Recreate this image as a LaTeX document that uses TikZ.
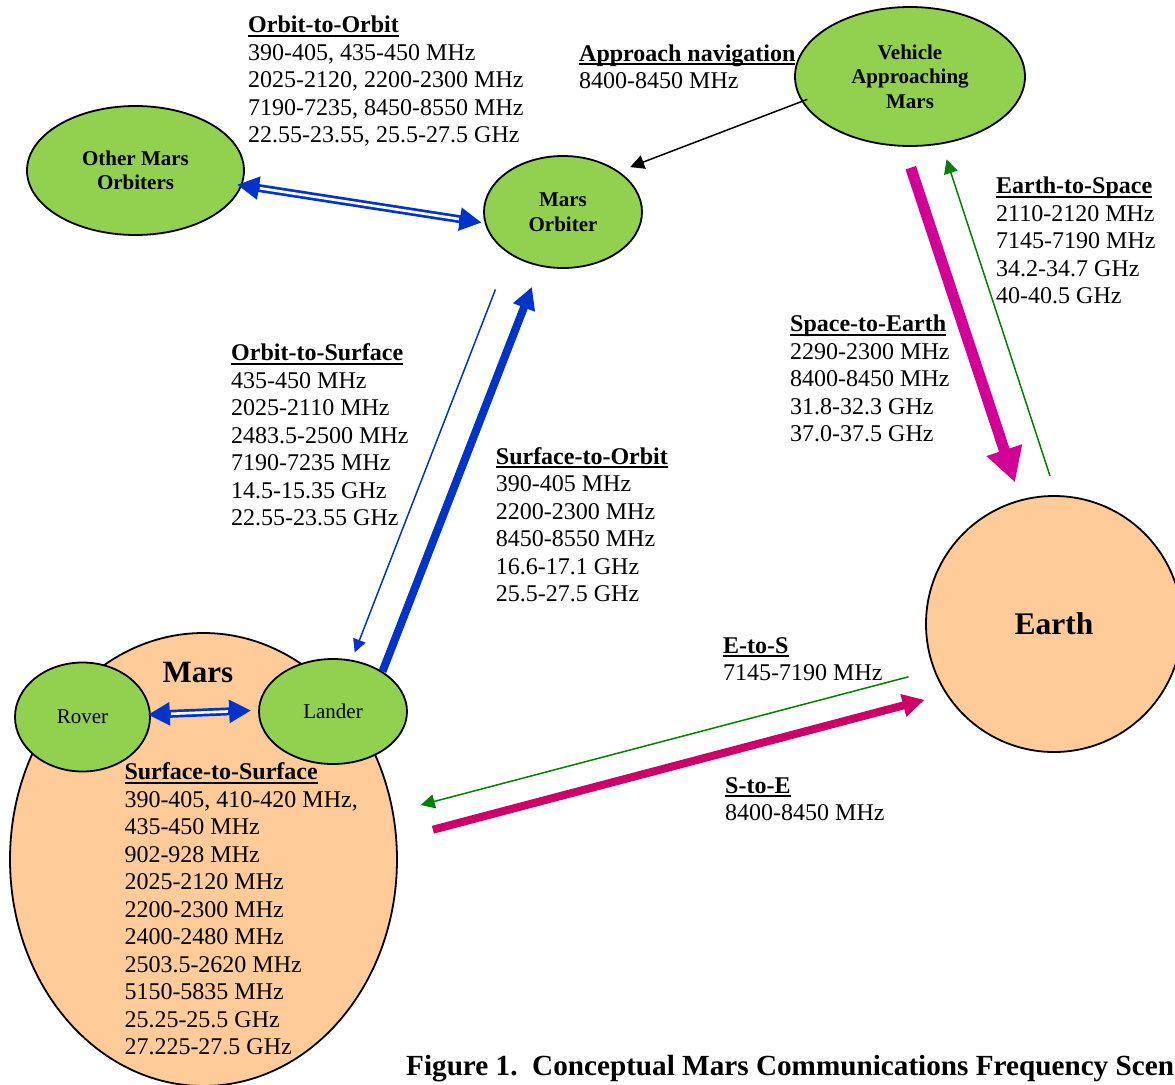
\documentclass[tikz,border=0pt]{standalone}
\usepackage{fontspec}
\setmainfont{Liberation Serif}
\usetikzlibrary{arrows.meta,shapes.geometric}
\definecolor{nodegreen}{RGB}{146,208,80}
\definecolor{peach}{RGB}{255,204,153}
\definecolor{linkblue}{RGB}{0,51,204}
\definecolor{downpink}{RGB}{210,0,150}
\definecolor{sepink}{RGB}{204,0,102}
\definecolor{upgreen}{RGB}{0,128,0}
\newsavebox\myulbox
\newcommand\myul[1]{\sbox\myulbox{#1}\rlap{\rule[-4pt]{\wd\myulbox}{2pt}}\usebox\myulbox}
\newcommand\hd[1]{\textbf{\myul{#1}}}
\tikzset{
  craft/.style={ellipse, draw=black, line width=1.8pt, fill=nodegreen, inner sep=0pt, align=center, font=\bfseries\fontsize{21}{24.5}\selectfont},
  surfcraft/.style={ellipse, draw=black, line width=1.8pt, fill=nodegreen, inner sep=0pt, font=\fontsize{21}{24.5}\selectfont},
  planet/.style={draw=black, line width=1.8pt, fill=peach, inner sep=0pt},
  freq/.style={anchor=north west, inner sep=0pt, align=left, font=\fontsize{24}{27.5}\selectfont},
  dbl/.style={draw=linkblue, line width=8pt, {Triangle[length=22pt,width=22pt]}-{Triangle[length=22pt,width=22pt]}},
  gapline/.style={draw=white, line width=2.6pt},
  blk/.style={draw=black, line width=1.5pt, -{Triangle[length=14pt,width=14pt]}},
  bluelo/.style={draw=linkblue, line width=1.5pt, -{Triangle[length=13pt,width=13pt]}},
  bluehi/.style={draw=linkblue, line width=8pt, -{Triangle[length=22pt,width=22pt]}},
  pinkhi/.style={draw=downpink, line width=11pt, -{Triangle[length=34pt,width=35pt]}},
  sehi/.style={draw=sepink, line width=8pt, -{Triangle[length=22pt,width=22pt]}},
  greenlo/.style={draw=upgreen, line width=1.5pt, -{Triangle[length=14pt,width=14pt]}}
}
\begin{document}
\begin{tikzpicture}[x=1pt,y=-1pt]
\useasboundingbox (0,0) rectangle (1175,1084);
\clip (0,0) rectangle (1175,1084);

% bodies
\node[planet, ellipse, minimum width=387pt, minimum height=453pt] (mars) at (203.5,859.5) {};
\node[planet, circle, minimum size=256pt, font=\bfseries\fontsize{31.5}{36}\selectfont] (earth) at (1054,624) {Earth};
\node[inner sep=0pt, font=\bfseries\fontsize{31}{36}\selectfont] (marslbl) at (198,672) {Mars};

\node[craft, minimum width=217pt, minimum height=129pt] (omo) at (135.5,170.5) {Other Mars\\Orbiters};
\node[craft, minimum width=158pt, minimum height=112pt] (mo) at (563,212) {Mars\\Orbiter};
\node[craft, minimum width=230pt, minimum height=139pt] (veh) at (910,76.5) {Vehicle\\Approaching\\Mars};
\node[surfcraft, minimum width=135pt, minimum height=109pt] (rover) at (82.5,717) {Rover};
\node[surfcraft, minimum width=148pt, minimum height=105pt] (lander) at (333,711.5) {Lander};

% frequency texts
\node[freq] (o2o) at (248,13.45) {\strut\hd{Orbit-to-Orbit}\\390-405, 435-450 MHz\\2025-2120, 2200-2300 MHz\\7190-7235, 8450-8550 MHz\\22.55-23.55, 25.5-27.5 GHz};
\node[freq] (appr) at (579,41.75) {\strut\hd{Approach navigation}\\8400-8450 MHz};
\node[freq] (e2s) at (996,174.05) {\strut\hd{Earth-to-Space}\\2110-2120 MHz\\7145-7190 MHz\\34.2-34.7 GHz\\40-40.5 GHz};
\node[freq] (s2e) at (790,312.45) {\strut\hd{Space-to-Earth}\\2290-2300 MHz\\8400-8450 MHz\\31.8-32.3 GHz\\37.0-37.5 GHz};
\node[freq] (o2s) at (231,341.45) {\strut\hd{Orbit-to-Surface}\\435-450 MHz\\2025-2110 MHz\\2483.5-2500 MHz\\7190-7235 MHz\\14.5-15.35 GHz\\22.55-23.55 GHz};
\node[freq] (s2o) at (495.7,444.75) {\strut\hd{Surface-to-Orbit}\\390-405 MHz\\2200-2300 MHz\\8450-8550 MHz\\16.6-17.1 GHz\\25.5-27.5 GHz};
\node[freq] (es) at (723,633.75) {\strut\hd{E-to-S}\\7145-7190 MHz};
\node[freq] (se) at (725,773.75) {\strut\hd{S-to-E}\\8400-8450 MHz};
\node[freq] (s2s) at (124.3,760.05) {\strut\hd{Surface-to-Surface}\\390-405, 410-420 MHz,\\435-450 MHz\\902-928 MHz\\2025-2120 MHz\\2200-2300 MHz\\2400-2480 MHz\\2503.5-2620 MHz\\5150-5835 MHz\\25.25-25.5 GHz\\27.225-27.5 GHz};

% connectors
\draw[dbl, shorten <=-5pt, shorten >=3pt] (omo.-8.7) -- (mo.188.5);
\draw[gapline, shorten <=18pt, shorten >=26pt] (omo.-8.7) -- (mo.188.5);

\draw[blk, shorten <=-6pt, shorten >=12pt] (veh.193.45) -- (mo.36.87);

\draw[bluelo, shorten <=38pt, shorten >=8pt] (mo.218) -- (lander.70.5);
\draw[bluehi, shorten >=22pt] (lander.39) -- (mo.247.4);

\draw[pinkhi, shorten <=22pt, shorten >=18pt] (veh.265) -- (earth.105.3);
\draw[greenlo, shorten <=20pt, shorten >=16pt] (earth.89.5) -- (veh.-65.9);

\draw[greenlo, shorten <=26pt, shorten >=28pt] (earth.201.7) -- (mars.14.1);
\draw[sehi, shorten <=37pt, shorten >=22pt] (mars.6) -- (earth.213.9);

\draw[dbl, shorten <=-3pt, shorten >=7pt] (rover.2) -- (lander.179);
\draw[gapline, shorten <=20pt, shorten >=30pt] (rover.2) -- (lander.179);

% caption
\node[anchor=base west, inner sep=0pt, font=\bfseries\fontsize{29.2}{34}\selectfont] (cap) at (406,1075) {Figure 1.\ \ Conceptual Mars Communications Frequency Scen};
\end{tikzpicture}
\end{document}
